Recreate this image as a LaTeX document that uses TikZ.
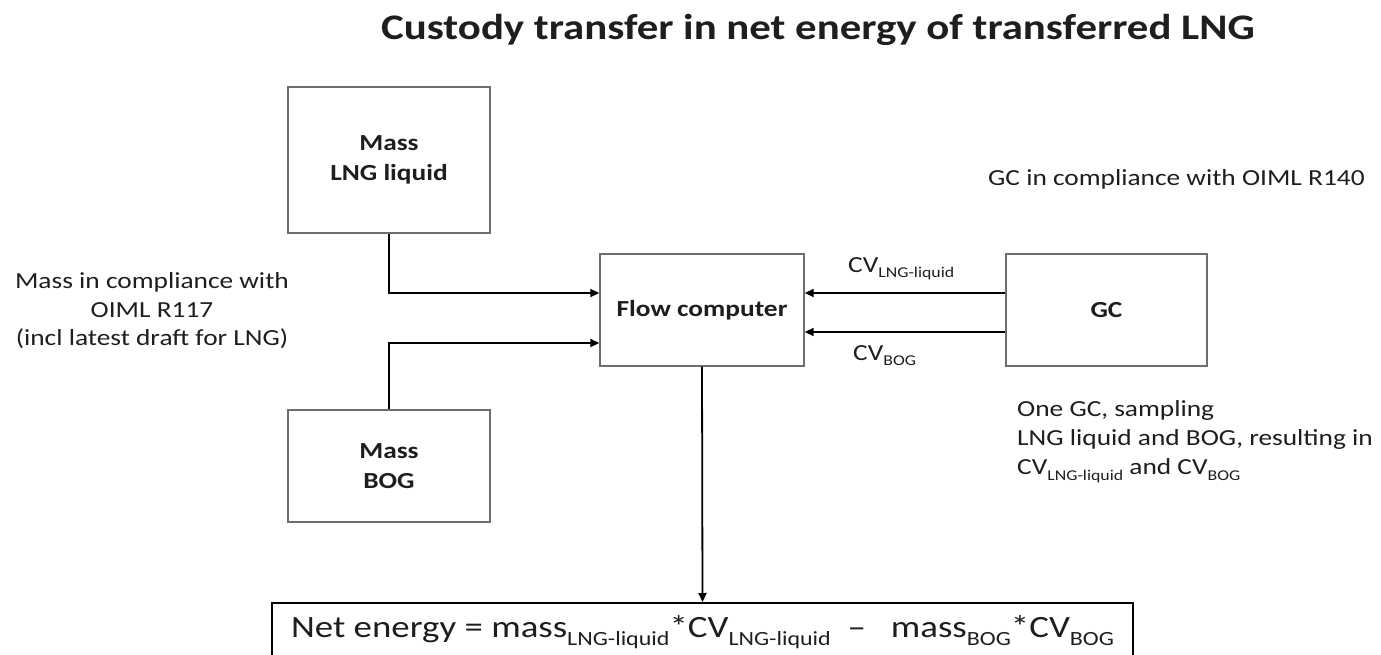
\documentclass[tikz,border=0pt]{standalone}
\usepackage{fontspec}
\setmainfont{Carlito}[FakeStretch=1.19]
\usetikzlibrary{arrows.meta}
\definecolor{boxgray}{HTML}{6E6E6E}
\definecolor{txt}{HTML}{1E1E1E}
\makeatletter
\newcommand\sbt[1]{{\edef\sbsz{\strip@pt\dimexpr0.65\dimexpr\f@size pt\relax\relax}\raisebox{-0.26em}{\fontsize{\sbsz}{\sbsz}\selectfont #1}}}
\makeatother
\begin{document}
\begin{tikzpicture}[x=1pt,y=-1pt,
  box/.style={draw=boxgray, line width=1.4pt, fill=white, align=center, text=txt,
    font=\fontsize{23}{30}\selectfont\bfseries, inner sep=0pt},
  arr/.style={line width=1.8pt, draw=black, -{Triangle[length=9pt,width=8pt]}},
  lbl/.style={font=\fontsize{23}{28.5}\selectfont, text=txt, inner sep=0pt}]
\useasboundingbox (0,0) rectangle (1381,655);
\clip (0,0) rectangle (1381,655);
\node[font=\fontsize{36}{40}\selectfont\bfseries, text=txt, inner sep=0pt, anchor=base] (title) at (818,40)
  {Custody transfer in net energy of transferred LNG};
\node[box, minimum width=202pt, minimum height=146pt] (lng) at (389,160) {Mass\\LNG liquid};
\node[box, minimum width=202pt, minimum height=112pt] (bog) at (389,466) {Mass\\BOG};
\node[box, minimum width=204pt, minimum height=112pt] (fc) at (702,310) {Flow computer};
\node[box, minimum width=201pt, minimum height=112pt] (gc) at (1106.5,310) {GC};
\node[draw=black, line width=1.6pt, anchor=north, inner xsep=0pt, inner ysep=0pt,
  minimum width=861pt, text height=35pt, text depth=30pt,
  font=\fontsize{31}{33}\selectfont, text=txt] (net) at (702.5,602)
  {Net energy = mass\sbt{LNG-liquid}*CV\sbt{LNG-liquid} \ \textendash\ \ \ mass\sbt{BOG}*CV\sbt{BOG}};
\node[lbl, align=center] (masstxt) at (152,311)
  {Mass in compliance with\\OIML R117\\(incl latest draft for LNG)};
\node[lbl, anchor=base west] (gctxt) at (988,186) {GC in compliance with OIML R140};
\node[lbl, anchor=north west, align=left, font=\fontsize{23}{29}\selectfont] (onegc) at (1017,400)
  {One GC, sampling\\LNG liquid and BOG, resulting in\\CV\sbt{LNG-liquid} and CV\sbt{BOG}};
\node[lbl, anchor=base west] (cvl) at (848,272) {CV\sbt{LNG-liquid}};
\node[lbl, anchor=base west] (cvb) at (853,360) {CV\sbt{BOG}};
\draw[arr] (lng.south) |- ([yshift=17pt]fc.west);
\draw[arr] (bog.north) |- ([yshift=-33pt]fc.west);
\draw[arr] ([yshift=17pt]gc.west) -- ([yshift=17pt]fc.east);
\draw[arr] ([yshift=-22pt]gc.west) -- ([yshift=-22pt]fc.east);
\draw[arr] (fc.south) -- (net.north);
\end{tikzpicture}
\end{document}
